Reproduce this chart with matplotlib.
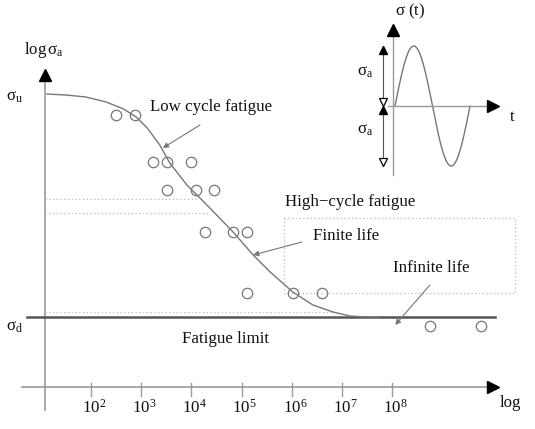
import numpy as np
import matplotlib
matplotlib.use("Agg")
import matplotlib.pyplot as plt

# =====================================
# DATA
# =====================================

# x in decades of cycles (log10 N), y in stress level (arbitrary log units)
decades = [2, 3, 4, 5, 6, 7, 8]
tick_labels = [r"$10^{2}$", r"$10^{3}$", r"$10^{4}$", r"$10^{5}$",
               r"$10^{6}$", r"$10^{7}$", r"$10^{8}$"]

test_logN = [2.50, 2.88, 3.24, 3.51, 3.99, 3.51, 4.09, 4.45,
             4.27, 4.83, 5.11, 5.11, 6.02, 6.60, 8.75, 9.77]
test_level = [272, 272, 225, 225, 225, 197, 197, 197,
              155, 155, 155, 94, 94, 94, 61, 61]

curve_logN = [1.12, 1.50, 1.90, 2.30, 2.65, 2.90, 3.12, 3.37, 3.57, 3.91,
              4.27, 4.83, 5.23, 5.57, 6.02, 6.42, 6.82, 7.16, 7.46, 7.75]
curve_level = [293, 292, 290, 285, 278, 270, 259, 242, 224, 202,
               184, 155, 132, 115, 95, 82, 75, 71, 70, 70]

sigma_u = 290
sigma_d = 70

# =====================================
# FIGURE
# =====================================

plt.rcParams["font.family"] = ["Liberation Serif", "DejaVu Serif"]
plt.rcParams["mathtext.fontset"] = "stix"
plt.rcParams["mathtext.default"] = "regular"

fig = plt.figure(figsize=(5.35, 4.29), dpi=100)
ax = fig.add_axes([0, 0, 1, 1])
ax.set_xlim(0.187, 10.845)
ax.set_ylim(-42, 387)
ax.axis("off")

txt = "#111111"
axis_c = "#9a9a9a"
line_c = "#777777"
fs = 12.2

# axes
ax.plot([1.08, 1.08], [-23, 308], color=axis_c, lw=1.2, zorder=1)
ax.plot([1.08], [312], marker="^", color="black", ms=8, zorder=3)
ax.plot([0.625, 9.95], [0, 0], color=axis_c, lw=1.2, zorder=1)
ax.plot([10.0], [0], marker=">", color="black", ms=8, zorder=3)

for d, lab in zip(decades, tick_labels):
    ax.plot([d, d], [-9, 4], color=axis_c, lw=1.0)
    ax.text(d + 0.06, -21, lab, fontsize=fs, color=txt,
            ha="center", va="center")

ax.text(10.15, -16, "log", fontsize=fs, color=txt, ha="left", va="center")
ax.text(1.064, 337, r"$log\,\sigma_{a}$", fontsize=fs, color=txt,
        ha="center", va="center")
ax.text(0.486, sigma_u, r"$\sigma_{u}$", fontsize=fs, color=txt,
        ha="center", va="center")
ax.text(0.486, 60, r"$\sigma_{d}$", fontsize=fs, color=txt,
        ha="center", va="center")

# fatigue limit
ax.plot([0.725, 10.05], [sigma_d, sigma_d], color="#555555", lw=1.8, zorder=2)

# dotted guides
dot_kw = dict(color="#bbbbbb", lw=0.9, ls=(0, (1, 2)), zorder=1)
ax.plot([1.08, 4.12], [188, 188], **dot_kw)
ax.plot([1.08, 4.33], [174, 174], **dot_kw)
ax.plot([1.08, 6.82], [75, 75], **dot_kw)
ax.plot([5.84, 10.45, 10.45, 5.84, 5.84], [169, 169, 94, 94, 169], **dot_kw)

# S-N curve and test points
ax.plot(curve_logN, curve_level, color=line_c, lw=1.0, zorder=2)
ax.plot(test_logN, test_level, ls="none", marker="o", ms=7.5,
        mfc="none", mec=line_c, mew=0.9, zorder=3)

# labels with pointers
arrow_kw = dict(arrowstyle="-|>", color=line_c, lw=0.8,
                mutation_scale=8, shrinkA=0, shrinkB=0)
ax.text(3.18, 280, "Low cycle fatigue", fontsize=fs, color=txt,
        ha="left", va="center")
ax.annotate("", xy=(3.43, 239), xytext=(4.17, 262), arrowprops=arrow_kw)
ax.text(5.86, 185, "High\u2212cycle fatigue", fontsize=fs, color=txt,
        ha="left", va="center")
ax.text(6.42, 151, "Finite life", fontsize=fs, color=txt,
        ha="left", va="center")
ax.annotate("", xy=(5.23, 132), xytext=(6.20, 145), arrowprops=arrow_kw)
ax.text(8.02, 119, "Infinite life", fontsize=fs, color=txt,
        ha="left", va="center")
ax.annotate("", xy=(8.06, 62), xytext=(8.75, 102), arrowprops=arrow_kw)
ax.text(3.81, 48, "Fatigue limit", fontsize=fs, color=txt,
        ha="left", va="center")

# =====================================
# INSET: sigma(t)
# =====================================

ins = fig.add_axes([350 / 535, 1 - 180 / 429, 180 / 535, 180 / 429])
ins.set_xlim(-0.6, 1.8)
ins.set_ylim(-1.233, 1.767)
ins.axis("off")
ins.patch.set_alpha(0)

t = np.linspace(0, 1, 200)
ins.plot(t, np.sin(2 * np.pi * t), color=line_c, lw=1.0)
ins.plot([-0.027, -0.027], [-1.15, 1.22], color=axis_c, lw=1.0)
ins.plot([-0.027], [1.26], marker="^", color="black", ms=8)
ins.plot([-0.093, 1.27], [0, 0], color=axis_c, lw=1.0)
ins.plot([1.31], [0], marker=">", color="black", ms=8)

ins.plot([-0.16, -0.16], [-1.0, 1.0], color="#555555", lw=0.8)
ins.plot([-0.16, -0.16], [0.93, -0.07], ls="none", marker="^",
         color="black", ms=5.5)
ins.plot([-0.16, -0.16], [0.07, -0.93], ls="none", marker="v",
         mfc="white", mec="black", ms=5.5, mew=0.9)

ins.text(0.2, 1.57, r"$\sigma\ (t)$", fontsize=fs, color=txt,
         ha="center", va="center")
ins.text(-0.4, 0.57, r"$\sigma_{a}$", fontsize=fs, color=txt,
         ha="center", va="center")
ins.text(-0.4, -0.4, r"$\sigma_{a}$", fontsize=fs, color=txt,
         ha="center", va="center")
ins.text(1.56, -0.18, "t", fontsize=fs, color=txt, ha="center", va="center")

fig.savefig("out.png", dpi=100)
